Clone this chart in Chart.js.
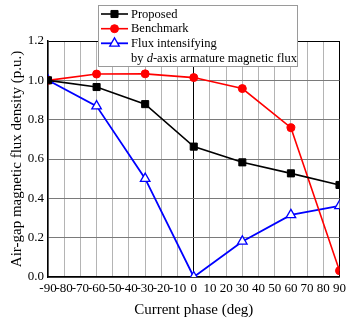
<!DOCTYPE html>
<html>
<head>
<meta charset="utf-8">
<script src="https://cdn.jsdelivr.net/npm/chart.js@4/dist/chart.umd.min.js"></script>
<style>
  html, body { margin: 0; padding: 0; background: #fff; }
  #wrap { width: 350px; height: 321px; }
</style>
</head>
<body>
<div id="wrap"><canvas id="c" width="350" height="321"></canvas></div>
<script>
// Current phase angles (deg)
const phases = [-90, -60, -30, 0, 30, 60, 90];
// Air-gap magnetic flux density (p.u.) per design
const proposed = [1.0, 0.966, 0.879, 0.663, 0.583, 0.527, 0.468];
const benchmark = [1.0, 1.032, 1.033, 1.014, 0.958, 0.759, 0.032];
const fluxIntensifying = [1.0, 0.869, 0.50, 0.0, 0.181, 0.316, 0.362];
// Axis tick values
const xTicks = [-90, -80, -70, -60, -50, -40, -30, -20, -10, 0, 10, 20, 30, 40, 50, 60, 70, 80, 90];
const yTicks = [0.0, 0.2, 0.4, 0.6, 0.8, 1.0, 1.2];

const serif = "'Liberation Serif', 'Times New Roman', serif";

const toPoints = ys => phases.map((x, i) => ({ x, y: ys[i] }));

// Boxed legend drawn over the upper part of the plot
const boxLegend = {
  id: 'boxLegend',
  afterDatasetsDraw(chart) {
    const ctx = chart.ctx;
    const x0 = 98.5, y0 = 5.5, w = 199, h = 61;
    ctx.save();
    ctx.fillStyle = '#fff';
    ctx.fillRect(x0, y0, w, h);
    ctx.strokeStyle = '#9a9a9a';
    ctx.lineWidth = 1;
    ctx.strokeRect(x0, y0, w, h);
    const rows = [14, 28.7, 43.3];
    const fontSize = 12.5;
    ctx.font = fontSize + 'px ' + serif;
    ctx.textBaseline = 'middle';
    chart.data.datasets.forEach((ds, i) => {
      const y = rows[i];
      ctx.strokeStyle = ds.borderColor;
      ctx.lineWidth = ds.borderWidth;
      ctx.beginPath();
      ctx.moveTo(101, y);
      ctx.lineTo(128, y);
      ctx.stroke();
      ctx.fillStyle = ds.pointBackgroundColor;
      ctx.strokeStyle = ds.borderColor;
      ctx.lineWidth = ds.pointBorderWidth || 1;
      Chart.helpers.drawPoint(ctx, {
        pointStyle: ds.pointStyle,
        radius: ds.pointRadius,
        rotation: 0,
        borderWidth: ds.pointBorderWidth || 1
      }, 114.5, y);
      ctx.fillStyle = '#000';
      ctx.font = fontSize + 'px ' + serif;
      ctx.fillText(ds.label, 131, y + 0.5);
    });
    // second line of the third entry, with an italic "d"
    let tx = 131;
    const ty = 59;
    const parts = [['by ', ''], ['d', 'italic '], ['-axis armature magnetic flux', '']];
    parts.forEach(([t, st]) => {
      ctx.font = st + fontSize + 'px ' + serif;
      ctx.fillText(t, tx, ty);
      tx += ctx.measureText(t).width;
    });
    ctx.restore();
  }
};

new Chart(document.getElementById('c'), {
  type: 'line',
  data: {
    datasets: [
      {
        label: 'Proposed',
        data: toPoints(proposed),
        borderColor: '#000000',
        backgroundColor: '#000000',
        pointBackgroundColor: '#000000',
        borderWidth: 1.6,
        pointStyle: 'rect',
        pointRadius: 5,
        pointBorderWidth: 1
      },
      {
        label: 'Benchmark',
        data: toPoints(benchmark),
        borderColor: '#ff0000',
        backgroundColor: '#ff0000',
        pointBackgroundColor: '#ff0000',
        borderWidth: 1.6,
        pointStyle: 'circle',
        pointRadius: 4,
        pointBorderWidth: 1
      },
      {
        label: 'Flux intensifying',
        data: toPoints(fluxIntensifying),
        borderColor: '#0000ff',
        backgroundColor: '#ffffff',
        pointBackgroundColor: '#ffffff',
        borderWidth: 1.8,
        pointStyle: 'triangle',
        pointRadius: 5.5,
        pointBorderWidth: 1.3
      }
    ]
  },
  options: {
    responsive: false,
    animation: false,
    events: [],
    layout: { padding: { top: 41, right: 7, left: 0, bottom: 0 } },
    plugins: { legend: { display: false }, tooltip: { enabled: false } },
    elements: { line: { tension: 0 } },
    scales: {
      x: {
        type: 'linear',
        min: -90, max: 90,
        afterFit(scale) { scale.height = 44; },
        afterBuildTicks(scale) { scale.ticks = xTicks.map(v => ({ value: v })); },
        ticks: {
          autoSkip: false, maxRotation: 0, minRotation: 0, padding: 4,
          color: '#000', font: { family: serif, size: 13 },
          callback: v => String(v)
        },
        grid: {
          drawTicks: false,
          lineWidth: 1,
          color: ctx => (ctx.tick && (ctx.tick.value === 0 || ctx.tick.value === 90)) ? '#000' : '#b4b4b4'
        },
        border: { color: '#000', width: 1.5 },
        title: {
          display: true, text: 'Current phase (deg)', color: '#000',
          font: { family: serif, size: 15 }, padding: { top: 0, bottom: 2 }
        }
      },
      y: {
        min: 0, max: 1.2,
        afterFit(scale) { scale.width = 48; },
        afterBuildTicks(scale) { scale.ticks = yTicks.map(v => ({ value: v })); },
        ticks: {
          padding: 4, color: '#000', font: { family: serif, size: 13 },
          callback: v => Number(v).toFixed(1)
        },
        grid: {
          drawTicks: false,
          lineWidth: 1,
          color: ctx => (ctx.tick && Math.abs(ctx.tick.value - 1.2) < 1e-6) ? '#000' : '#7a7a7a'
        },
        border: { color: '#000', width: 1.5 },
        title: {
          display: true, text: 'Air-gap magnetic flux density (p.u.)', color: '#000',
          font: { family: serif, size: 15 }, padding: { top: 8, bottom: 0 }
        }
      }
    }
  },
  plugins: [boxLegend]
});
</script>
</body>
</html>
